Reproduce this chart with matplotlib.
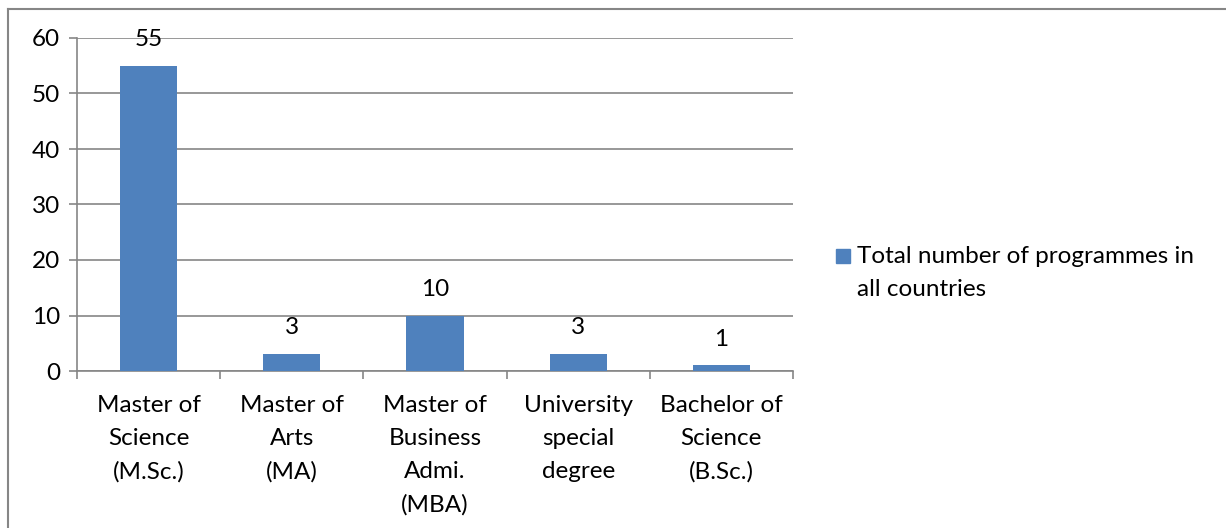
import matplotlib.pyplot as plt
from matplotlib.lines import Line2D
from matplotlib.patches import Rectangle

#--- data
categories = ['Master of\nScience\n(M.Sc.)',
              'Master of\nArts\n(MA)',
              'Master of\nBusiness\nAdmi.\n(MBA)',
              'University\nspecial\ndegree',
              'Bachelor of\nScience\n(B.Sc.)']
programmes = [55, 3, 10, 3, 1]
series_nm  = 'Total number of programmes in\nall countries'

bar_c  = '#4F81BD'
grid_c = '#868686'
fs     = 17.5
W, H   = 1226, 528

plt.rcParams['font.family'] = ['Lato', 'DejaVu Sans']

fig = plt.figure(figsize=(W/100, H/100), dpi=100)
ax  = fig.add_axes([77/W, 1 - 371/H, 716/W, 333/H])

#--- bars
x = list(range(len(categories)))
bars = ax.bar(x, programmes, width=0.4, color=bar_c, zorder=3)

#--- value labels
for b, v in zip(bars, programmes):
    ax.annotate(str(v), (b.get_x() + b.get_width()/2, v),
                xytext=(0, 19), textcoords='offset points',
                ha='center', va='center', fontsize=fs)

#--- axes
ax.set_xlim(-0.5, len(categories) - 0.5)
ax.set_ylim(0, 60)
ax.set_yticks(range(0, 61, 10))
ax.yaxis.grid(True, color=grid_c, linewidth=1.2, zorder=0)
ax.set_axisbelow(True)

for s in ['top', 'right']:
    ax.spines[s].set_visible(False)
for s in ['left', 'bottom']:
    ax.spines[s].set_color(grid_c)
    ax.spines[s].set_linewidth(1.2)

ax.tick_params(axis='y', length=6, width=1.2, color=grid_c, labelsize=fs, pad=6)
ax.set_xticks([i - 0.5 for i in range(len(categories) + 1)])
ax.set_xticklabels([])
ax.tick_params(axis='x', length=6, width=1.2, color=grid_c)

for i, c in enumerate(categories):
    ax.text(i, -0.072, c, transform=ax.get_xaxis_transform(),
            ha='center', va='top', fontsize=fs, linespacing=1.7)

#--- legend (square key aligned with first text line)
fig.add_artist(Rectangle((836/W, 1 - 263/H), 14/W, 14/H,
                         transform=fig.transFigure, color=bar_c))
fig.text(857/W, 1 - 246/H, series_nm, ha='left', va='top',
         fontsize=fs, linespacing=1.7)

#--- chart border
fig.add_artist(Line2D([8/W, 1], [1 - 9/H, 1 - 9/H],
                      transform=fig.transFigure, color=grid_c, lw=1.5))
fig.add_artist(Line2D([8/W, 8/W], [0, 1 - 9/H],
                      transform=fig.transFigure, color=grid_c, lw=1.5))

plt.savefig('out.png', dpi=100)
